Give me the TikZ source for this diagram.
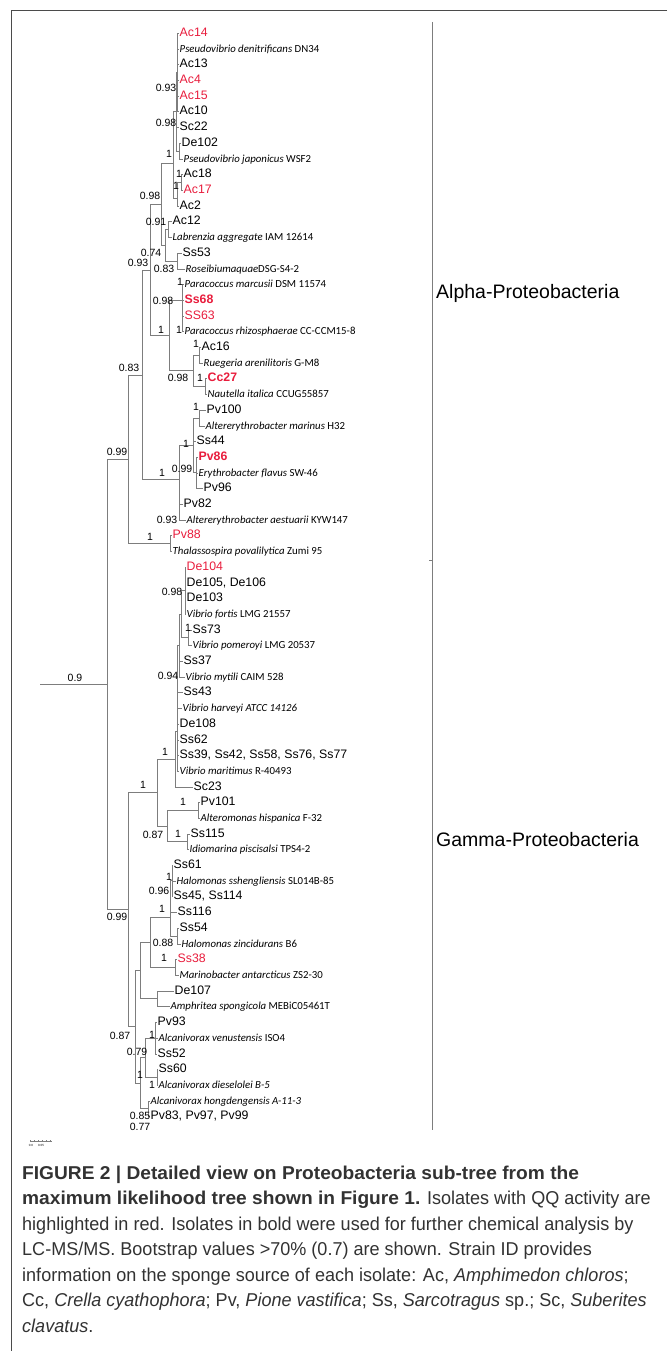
\documentclass[tikz,border=0pt]{standalone}
\usepackage{fontspec}
\setmainfont{Liberation Sans}
\newfontfamily\spfont{Carlito}
\newfontfamily\capfont[FakeStretch=0.97]{Liberation Sans}
\newfontfamily\capbold[FakeStretch=1.03]{Liberation Sans}
\definecolor{qqred}{RGB}{232,28,60}
\definecolor{brgray}{RGB}{125,125,125}
\definecolor{captext}{RGB}{50,50,50}

\begin{document}
\begin{tikzpicture}[x=1pt,y=-1pt,
    br/.style={draw=brgray,line width=0.9pt},
    leaf/.style={anchor=west,inner sep=0.5pt,font=\fontsize{12.3}{14}\selectfont,text height=8.8pt,text depth=2.4pt},
    qq/.style={leaf,text=qqred},
    qqb/.style={qq,font=\fontsize{12.3}{14}\selectfont\bfseries},
    sp/.style={leaf,font=\fontsize{10.8}{13}\spfont},
    bs/.style={inner sep=0pt,font=\fontsize{10.5}{12}\selectfont},
    clade/.style={anchor=west,inner sep=0pt,font=\fontsize{19.5}{22}\selectfont},
    capline/.style={anchor=base west,inner sep=0pt,text=captext,font=\fontsize{18.6}{22}\capfont}]
    \useasboundingbox (0,0) rectangle (667,1351);
    \draw[brgray!60!black,line width=0.8pt] (667,10) -- (11,10) -- (11,1351);

    % leaves, Alpha
    \node[qq] (Ac14) at (179,33) {Ac14};
    \node[sp] (denit) at (179,49) {\textit{Pseudovibrio denitrificans} DN34};
    \node[leaf] (Ac13) at (179,64) {Ac13};
    \node[qq] (Ac4) at (179,80) {Ac4};
    \node[qq] (Ac15) at (179,96) {Ac15};
    \node[leaf] (Ac10) at (179,111) {Ac10};
    \node[leaf] (Sc22) at (179,127) {Sc22};
    \node[leaf] (De102) at (181,143) {De102};
    \node[sp] (japon) at (183,159) {\textit{Pseudovibrio japonicus} WSF2};
    \node[leaf] (Ac18) at (183,174) {Ac18};
    \node[qq] (Ac17) at (183,190) {Ac17};
    \node[leaf] (Ac2) at (179,206) {Ac2};
    \node[leaf] (Ac12) at (172,221) {Ac12};
    \node[sp] (labr) at (172,237) {\textit{Labrenzia aggregate} IAM 12614};
    \node[leaf] (Ss53) at (182,253) {Ss53};
    \node[sp] (roseib) at (185,269) {\textit{Roseibiumaquae}DSG-S4-2};
    \node[sp] (marcus) at (184,284) {\textit{Paracoccus marcusii} DSM 11574};
    \node[qqb] (Ss68) at (184,300) {Ss68};
    \node[qq] (SS63) at (184,316) {SS63};
    \node[sp] (rhizo) at (184,331) {\textit{Paracoccus rhizosphaerae} CC-CCM15-8};
    \node[leaf] (Ac16) at (201,347) {Ac16};
    \node[sp] (rueg) at (203,363) {\textit{Ruegeria arenilitoris} G-M8};
    \node[qqb] (Cc27) at (207,378) {Cc27};
    \node[sp] (naut) at (207,394) {\textit{Nautella italica} CCUG55857};
    \node[leaf] (Pv100) at (206,410) {Pv100};
    \node[sp] (marin) at (205,426) {\textit{Altererythrobacter marinus} H32};
    \node[leaf] (Ss44) at (196,441) {Ss44};
    \node[qqb] (Pv86) at (198,457) {Pv86};
    \node[sp] (flav) at (198,473) {\textit{Erythrobacter flavus} SW-46};
    \node[leaf] (Pv96) at (203,488) {Pv96};
    \node[leaf] (Pv82) at (183,504) {Pv82};
    \node[sp] (aestu) at (186,520) {\textit{Altererythrobacter aestuarii} KYW147};
    \node[qq] (Pv88) at (172,535) {Pv88};
    \node[sp] (thala) at (172,551) {\textit{Thalassospira povalilytica} Zumi 95};

    % leaves, Gamma
    \node[qq] (De104) at (186,567) {De104};
    \node[leaf] (De105) at (186,583) {De105, De106};
    \node[leaf] (De103) at (186,598) {De103};
    \node[sp] (fortis) at (186,614) {\textit{Vibrio fortis} LMG 21557};
    \node[leaf] (Ss73) at (192,630) {Ss73};
    \node[sp] (pomer) at (192,645) {\textit{Vibrio pomeroyi} LMG 20537};
    \node[leaf] (Ss37) at (183,661) {Ss37};
    \node[sp] (mytil) at (185,677) {\textit{Vibrio mytili} CAIM 528};
    \node[leaf] (Ss43) at (183,692) {Ss43};
    \node[sp] (harv) at (182,708) {\textit{Vibrio harveyi ATCC 14126}};
    \node[leaf] (De108) at (179,724) {De108};
    \node[leaf] (Ss62) at (179,740) {Ss62};
    \node[leaf] (Ss39) at (179,755) {Ss39, Ss42, Ss58, Ss76, Ss77};
    \node[sp] (marit) at (179,771) {\textit{Vibrio maritimus} R-40493};
    \node[leaf] (Sc23) at (193,787) {Sc23};
    \node[leaf] (Pv101) at (200,802) {Pv101};
    \node[sp] (hisp) at (200,818) {\textit{Alteromonas hispanica} F-32};
    \node[leaf] (Ss115) at (190,834) {Ss115};
    \node[sp] (idio) at (189,849) {\textit{Idiomarina piscisalsi} TPS4-2};
    \node[leaf] (Ss61) at (173,865) {Ss61};
    \node[sp] (sheng) at (176,881) {\textit{Halomonas sshengliensis} SL014B-85};
    \node[leaf] (Ss45) at (173,896) {Ss45, Ss114};
    \node[leaf] (Ss116) at (177,912) {Ss116};
    \node[leaf] (Ss54) at (179,928) {Ss54};
    \node[sp] (zinc) at (181,944) {\textit{Halomonas zincidurans} B6};
    \node[qq] (Ss38) at (177,959) {Ss38};
    \node[sp] (marino) at (179,975) {\textit{Marinobacter antarcticus} ZS2-30};
    \node[leaf] (De107) at (174,991) {De107};
    \node[sp] (amphr) at (170,1006) {\textit{Amphritea spongicola} MEBiC05461T};
    \node[leaf] (Pv93) at (157,1022) {Pv93};
    \node[sp] (venus) at (158,1038) {\textit{Alcanivorax venustensis} ISO4};
    \node[leaf] (Ss52) at (157,1054) {Ss52};
    \node[leaf] (Ss60) at (158,1069) {Ss60};
    \node[sp] (diese) at (158,1085) {\textit{Alcanivorax dieselolei B-5}};
    \node[sp] (hongd) at (150,1101) {\textit{Alcanivorax hongdengensis A-11-3}};
    \node[leaf] (Pv83) at (150,1116) {Pv83, Pv97, Pv99};

    % inner nodes
    \coordinate (ps93) at (177,72);
    \coordinate (psD) at (179,151);
    \coordinate (psA) at (176,111);
    \coordinate (a1718) at (181,182);
    \coordinate (a18) at (177,198);
    \coordinate (pse) at (173,163);
    \coordinate (lnode) at (168,229);
    \coordinate (rnode) at (177,261);
    \coordinate (lr) at (165,245);
    \coordinate (q098) at (161,204);
    \coordinate (para) at (182,300);
    \coordinate (rg) at (199,355);
    \coordinate (cn) at (205,386);
    \coordinate (rose) at (193,370);
    \coordinate (pr1) at (169,335);
    \coordinate (p093) at (150,270);
    \coordinate (e100) at (199,418);
    \coordinate (efl) at (196,472);
    \coordinate (e1) at (193,445);
    \coordinate (e2) at (179,512);
    \coordinate (ery) at (179,479);
    \coordinate (n083) at (142,375);
    \coordinate (pv88) at (170,543);
    \coordinate (al) at (128,459);
    \coordinate (vb) at (185,590);
    \coordinate (vc) at (188,637);
    \coordinate (vd) at (181,614);
    \coordinate (vu) at (179,645);
    \coordinate (va) at (177,731);
    \coordinate (vib) at (175,759);
    \coordinate (p101) at (198,810);
    \coordinate (s115) at (187,841);
    \coordinate (alt) at (167,826);
    \coordinate (gv) at (157,792);
    \coordinate (h1) at (172,880);
    \coordinate (h2) at (177,936);
    \coordinate (halo) at (170,917);
    \coordinate (ssm) at (175,967);
    \coordinate (hb) at (150,942);
    \coordinate (de) at (157,998);
    \coordinate (h0) at (140,970);
    \coordinate (a1) at (155,1038);
    \coordinate (a2) at (157,1077);
    \coordinate (a79) at (145,1057);
    \coordinate (a85) at (148,1108);
    \coordinate (aR) at (140,1083);
    \coordinate (g1) at (135,1026);
    \coordinate (g0) at (128,909);
    \coordinate (root) at (107,684);
    \coordinate (tail) at (40,684);

    % branches
    \draw[br] (tail) -- (root);
    \foreach \p/\c in {root/al,root/g0,al/n083,al/pv88,n083/p093,n083/ery,
        p093/q098,p093/pr1,q098/pse,q098/lr,pse/psA,pse/a18,psA/ps93,psA/psD,
        a18/a1718,lr/lnode,lr/rnode,pr1/para,pr1/rose,rose/rg,rose/cn,
        ery/e1,ery/e2,e1/e100,e1/efl,
        g0/gv,g0/g1,gv/vib,gv/alt,vib/va,va/vu,vu/vd,vd/vb,vd/vc,alt/p101,alt/s115,
        g1/h0,g1/aR,h0/hb,h0/de,hb/halo,hb/ssm,halo/h1,halo/h2,aR/a79,aR/a85,a79/a1,a79/a2}
        \draw[br] (\p) |- (\c);
    \foreach \p/\c in {ps93/Ac14,ps93/denit,ps93/Ac13,ps93/Ac4,ps93/Ac15,ps93/Ac10,
        psA/Sc22,psD/De102,psD/japon,a1718/Ac18,a1718/Ac17,a18/Ac2,
        lnode/Ac12,lnode/labr,rnode/Ss53,rnode/roseib,
        para/marcus,para/Ss68,para/SS63,para/rhizo,rg/Ac16,rg/rueg,cn/Cc27,cn/naut,
        e100/Pv100,e100/marin,e1/Ss44,efl/Pv86,efl/flav,efl/Pv96,e2/Pv82,e2/aestu,
        pv88/Pv88,pv88/thala,
        vb/De104,vb/De105,vb/De103,vb/fortis,vc/Ss73,vc/pomer,vu/Ss37,vu/mytil,
        va/Ss43,va/harv,va/De108,va/Ss62,va/Ss39,va/marit,vib/Sc23,
        p101/Pv101,p101/hisp,s115/Ss115,s115/idio,
        h1/Ss61,h1/sheng,h1/Ss45,halo/Ss116,h2/Ss54,h2/zinc,ssm/Ss38,ssm/marino,
        de/De107,de/amphr,a1/Pv93,a1/venus,a1/Ss52,a2/Ss60,a2/diese,a85/hongd,a85/Pv83}
        \draw[br] (\p) |- (\c.west);

    % bootstrap values
    \node[bs] (b1) at (166,88) {0.93};
    \node[bs] (b2) at (166,123) {0.98};
    \node[bs] (b3) at (169,154) {1};
    \node[bs] (b4) at (179,174) {1};
    \node[bs] (b5) at (176,186) {1};
    \node[bs] (b6) at (150,196) {0.98};
    \node[bs] (b7) at (156,222) {0.91};
    \node[bs] (b8) at (151,253) {0.74};
    \node[bs] (b9) at (138,263) {0.93};
    \node[bs] (b10) at (164,269) {0.83};
    \node[bs] (b11) at (180,282) {1};
    \node[bs] (b12) at (163,301) {0.98};
    \node[bs] (b13) at (161,330) {1};
    \node[bs] (b14) at (179,330) {1};
    \node[bs] (b15) at (196,344) {1};
    \node[bs] (b16) at (129,368) {0.83};
    \node[bs] (b17) at (178,378) {0.98};
    \node[bs] (b18) at (200,378) {1};
    \node[bs] (b19) at (196,407) {1};
    \node[bs] (b20) at (186,444) {1};
    \node[bs] (b21) at (117,452) {0.99};
    \node[bs] (b22) at (182,469) {0.99};
    \node[bs] (b23) at (162,473) {1};
    \node[bs] (b24) at (167,520) {0.93};
    \node[bs] (b25) at (150,537) {1};
    \node[bs] (b26) at (172,592) {0.98};
    \node[bs] (b27) at (188,628) {1};
    \node[bs] (b28) at (168,676) {0.94};
    \node[bs] (b29) at (75,678) {0.9};
    \node[bs] (b30) at (165,752) {1};
    \node[bs] (b31) at (143,785) {1};
    \node[bs] (b32) at (183,802) {1};
    \node[bs] (b33) at (153,835) {0.87};
    \node[bs] (b34) at (178,834) {1};
    \node[bs] (b35) at (169,877) {1};
    \node[bs] (b36) at (159,891) {0.96};
    \node[bs] (b37) at (162,909) {1};
    \node[bs] (b38) at (117,917) {0.99};
    \node[bs] (b39) at (163,943) {0.88};
    \node[bs] (b40) at (164,958) {1};
    \node[bs] (b41) at (120,1036) {0.87};
    \node[bs] (b42) at (152,1035) {1};
    \node[bs] (b43) at (137,1052) {0.79};
    \node[bs] (b44) at (140,1075) {1};
    \node[bs] (b45) at (152,1085) {1};
    \node[bs] (b46) at (140,1116) {0.85};
    \node[bs] (b47) at (140,1127) {0.77};

    % clades
    \coordinate (brtop) at (432,22);
    \coordinate (brmid) at (432,560);
    \coordinate (brbot) at (432,1130);
    \draw[br] (brtop) -- (brbot);
    \draw[br] (brmid) -- ++(-3,0);
    \node[clade] (alpha) at (436,293) {Alpha-Proteobacteria};
    \node[clade] (gamma) at (436,840) {Gamma-Proteobacteria};

    % scale bar
    \coordinate (sb0) at (30,1141);
    \coordinate (sb1) at (52,1141);
    \draw[br,line width=0.5pt] (sb0) -- (sb1);
    \foreach \t in {30,34,...,52} \draw[br,line width=0.3pt] (\t,1141) -- ++(0,-1.5);
    \node[font=\fontsize{3}{3}\selectfont,inner sep=0pt] (sbl0) at (31,1145) {0.0};
    \node[font=\fontsize{3}{3}\selectfont,inner sep=0pt] (sbl1) at (41,1145) {0.05};

    % caption
    \node[capline] (c1) at (22,1179) {\capbold\bfseries FIGURE 2 | Detailed view on Proteobacteria sub-tree from the};
    \node[capline] (c2) at (22,1204.5) {{\capbold\bfseries maximum likelihood tree shown in Figure 1.} Isolates with QQ activity are};
    \node[capline] (c3) at (22,1230) {highlighted in red. Isolates in bold were used for further chemical analysis by};
    \node[capline] (c4) at (22,1255.5) {LC-MS/MS. Bootstrap values >70\% (0.7) are shown. Strain ID provides};
    \node[capline] (c5) at (22,1281) {information on the sponge source of each isolate: Ac, \textit{Amphimedon chloros};};
    \node[capline] (c6) at (22,1306.5) {Cc, \textit{Crella cyathophora}; Pv, \textit{Pione vastifica}; Ss, \textit{Sarcotragus} sp.; Sc, \textit{Suberites}};
    \node[capline] (c7) at (22,1332) {\textit{clavatus}.};
\end{tikzpicture}
\end{document}
